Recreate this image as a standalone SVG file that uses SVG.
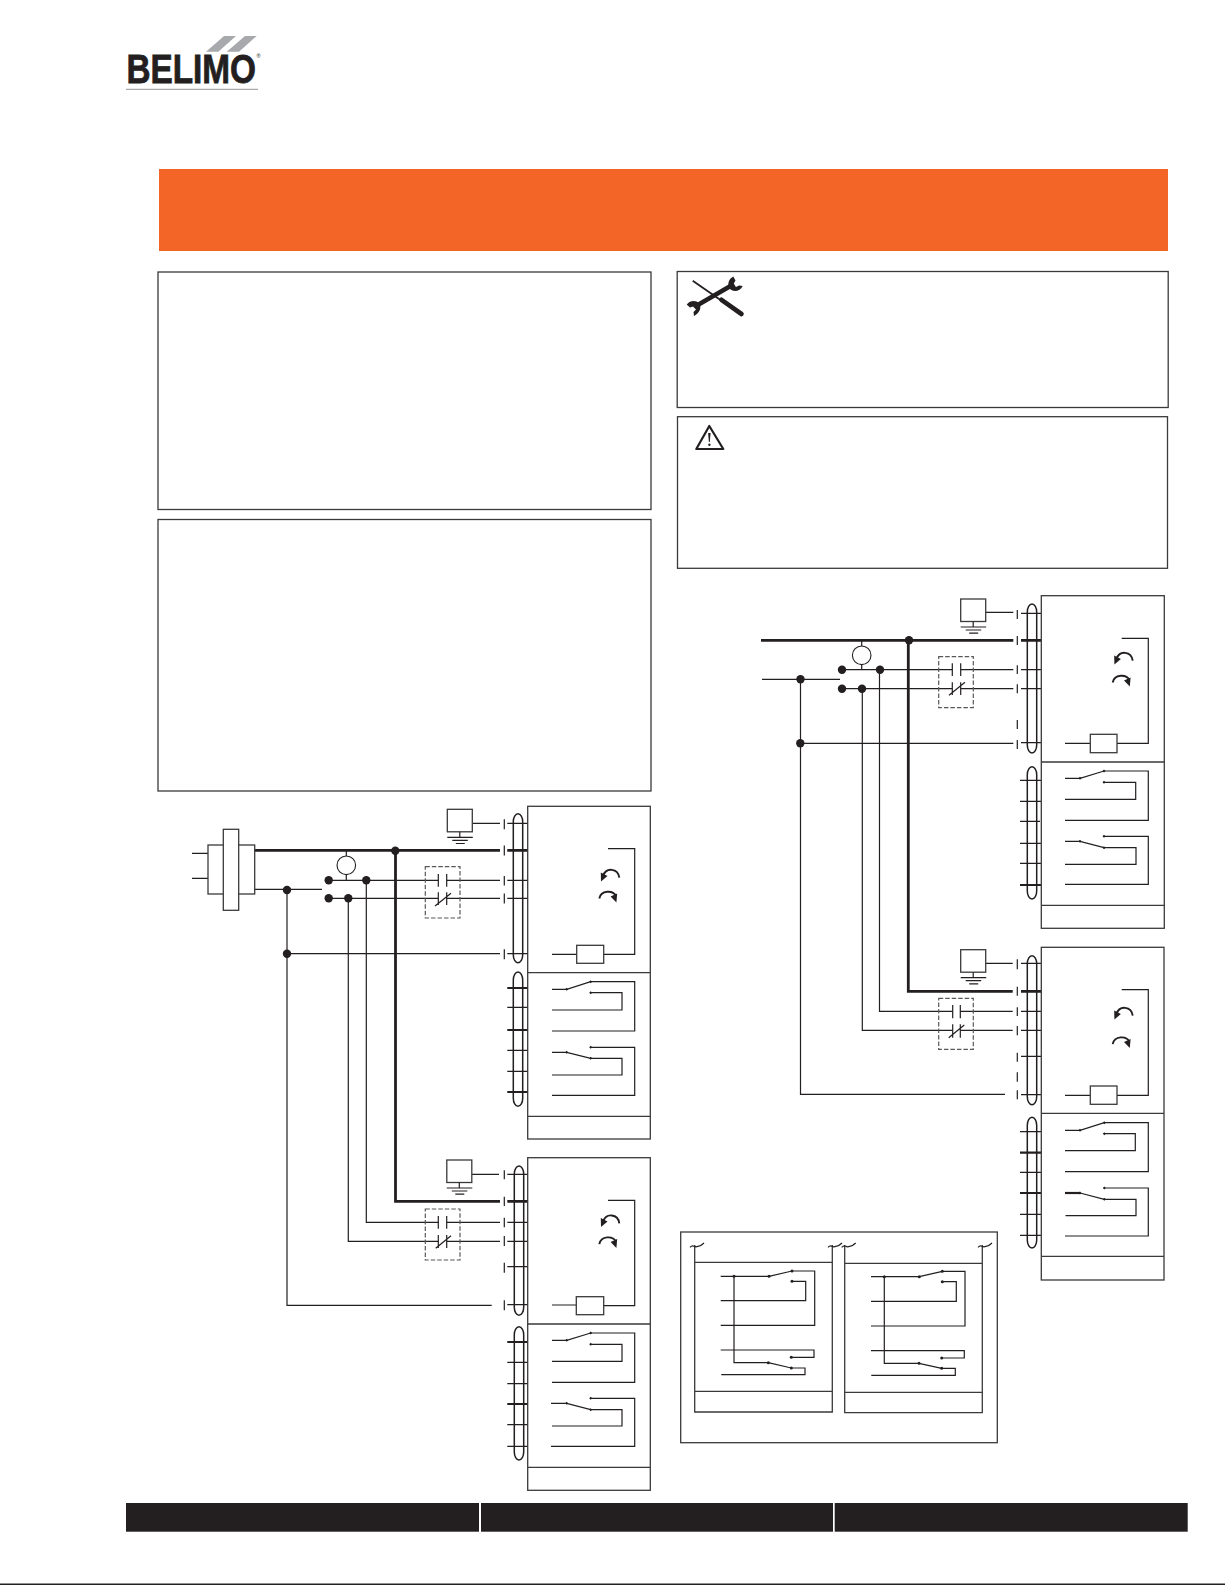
<svg xmlns="http://www.w3.org/2000/svg" width="1225" height="1585" viewBox="0 0 1225 1585">
<style>
.w{fill:none;stroke:#231f20;stroke-width:1.2}
.t{fill:none;stroke:#231f20;stroke-width:2.8}
.m{fill:none;stroke:#231f20;stroke-width:2.2}
.b{fill:none;stroke:#3a3a3c;stroke-width:1.3}
.bx{fill:#fff;stroke:#3a3a3c;stroke-width:1.3}
.o{fill:none;stroke:#231f20;stroke-width:1.5}
.d{fill:none;stroke:#58595b;stroke-width:1.2;stroke-dasharray:4.5 2}
.k{fill:#231f20}
.a{fill:none;stroke:#231f20;stroke-width:1.9}
</style>
<defs>
<g id="rotL"><path class="a" d="M19.3-2.3C18-12 6-13 3-4"/><path class="k" d="M1 1.5 .8-7.5 7.5-4z"/></g>
<g id="rotR"><path class="a" d="M-.7-1.5C1-10 13-10 16-4"/><path class="k" d="M16.4 2.5 17.2-6.5 10.6-3.5z"/></g>
<g id="gnd"><rect class="bx" x="0" y="0" width="25" height="22.5"/><path class="w" d="M12.5 22.5V28M0 28H25.5M5 31H20.5M8.5 34.2H17.5"/></g>
<g id="squig"><path class="w" d="M0 4.3q2-2 4-1t4 0q3-.3 6-3.3"/></g>
</defs>
<rect width="1225" height="1585" fill="#fff"/>

<g id="logo">
<path fill="#a7a9ac" d="M206 51.7 224 36H236L218.3 51.7zM226.7 51.7 245 36H256.7L239 51.7z"/>
<text x="126.5" y="83" font-family="'Liberation Sans',Arial,sans-serif" font-weight="700" font-size="40" fill="#231f20"><tspan textLength="129.5" lengthAdjust="spacingAndGlyphs" stroke="#231f20" stroke-width=".8">BELIMO</tspan><tspan x="256.4" y="58" font-size="5.5" font-weight="400">®</tspan></text>
<rect x="126" y="88.8" width="132" height="1" fill="#939598"/>
</g>
<g id="title-band"><rect x="159" y="169" width="1009" height="82" fill="#f36526"/></g>
<g id="box-left-1"><rect class="b" x="158" y="272" width="493" height="237.5"/></g>
<g id="box-left-2"><rect class="b" x="158" y="519.5" width="493" height="271.5"/></g>
<g id="box-tools"><rect class="b" x="677.2" y="271.5" width="491" height="136"/>
<path class="k" d="M692.2 281.4 693.2 280 721 299.3 720 300.8z"/>
<path fill="none" stroke="#231f20" stroke-width="4.6" stroke-linecap="round" d="M721.5 299.8 741.5 314"/>
<path fill="none" stroke="#231f20" stroke-width="4.4" d="M696 306 734 284"/>
<path class="k" d="M733.3 276.5C728 279 727 286 730 289 733 292 740 292 742.7 286L739 285.5 736 287 733.5 284 735.5 280.5Z"/>
<path class="k" d="M686.7 304.5C690 300 696 300 699 303 702 307 700 313 694 316L693.5 312 696 309.5 693 306.5 690 307.5Z"/>
</g>
<g id="box-warning"><rect class="b" x="677.5" y="416.7" width="490" height="151.6"/>
<path fill="none" stroke="#231f20" stroke-width="2.2" stroke-linejoin="round" d="M709.3 426 696.3 449H723.3z"/>
<path class="k" d="M708.1 433H710.6L709.8 442H708.9z"/><circle class="k" cx="709.4" cy="444.8" r="1.2"/>
</g>

<g id="connectors">
<path class="w" d="M192 853.3H208M192 878.3H208M253.3 889.3H322"/>
<path class="w" d="M287 890V1305.3H491.7M287 953.7H500"/>
<path class="t" d="M254.3 850.3H500M395.5 850.3V1201.3H500"/>
<path class="w" d="M346.3 850.3V856M346.3 874.7V880.3M328.7 880.3H438.3M446.7 880.3H500M328.7 898.3H438.3M446.7 898.3H500"/>
<path class="w" d="M348.3 898.3V1241.3H438.3M446.7 1241.3H500M366.3 880.3V1222.3H438.3M446.7 1222.3H500"/>
<path class="w" d="M472.7 823.3H500M472 1174.3H499"/>
<path class="w" d="M504.3 819.3V829.3M504.3 845.5V855.5M504.3 876V885.5M504.3 893.5V903.5M504.3 949.3V959.3M504.3 1170.3V1179.3M504.3 1196.7V1206M504.3 1217.7V1227.3M504.3 1236V1246M504.3 1262.7V1272.7M504.3 1300.3V1310.3"/>
<path class="w" d="M507.3 823.3H527.7M507.3 880.3H527.7M507.3 898.3H527.7M507.3 953.7H527.7M507.3 1007.3H527.7M507.3 1050.3H527.7M507.3 1071.3H527.7M507.3 1174.3H527.7M507.3 1222.3H527.7M507.3 1241.3H527.7M507.3 1266.7H527.7M507.3 1304.7H527.7M507.3 1362.3H527.7M507.3 1383.7H527.7M507.3 1424.7H527.7M507.3 1446.3H527.7"/>
<path class="t" d="M507.3 850.3H527.7M507.3 1201.3H527.7"/>
<path class="m" d="M507.3 988H527.7M507.3 1030H527.7M507.3 1092H527.7M507.3 1342H527.7M507.3 1404H527.7"/>
<circle class="k" cx="395.3" cy="850.7" r="4.2"/><circle class="k" cx="287" cy="890" r="4.2"/><circle class="k" cx="287" cy="953.7" r="4.2"/>
<circle class="k" cx="328.7" cy="880.3" r="4.2"/><circle class="k" cx="366.3" cy="880.3" r="4.2"/><circle class="k" cx="328.7" cy="898.3" r="4.2"/><circle class="k" cx="348.3" cy="898.3" r="4.2"/>
<path class="w" d="M762 679.3H840M800.5 679.3V1094.3H1005M800.5 743.3H1013.3"/>
<path class="t" d="M761 640.3H1013.3M908.3 640.3V991.3H1012.7"/>
<path class="w" d="M861.7 640.3V646M861.7 664.7V669.7M842 669.7H952.3M960.7 669.7H1013.3M842 688.7H952.3M960.7 688.7H1013.3"/>
<path class="w" d="M862.3 688.7V1030.3H952.7M960.3 1030.3H1012.7M879.5 669.7V1011.3H952.7M960.3 1011.3H1012.7"/>
<path class="w" d="M985.7 612.3H1013.3M985.7 963.3H1012.7"/>
<path class="w" d="M1017.3 610V619M1017.3 636V645M1017.3 665.3V674M1017.3 684.3V693.3M1017.3 720V729M1017.3 740V749M1017.3 959.3V969.3M1017.3 986.7V995.7M1017.3 1007.3V1016M1017.3 1026V1035.3M1017.3 1052.7V1061.7M1017.3 1072.3V1081.7M1017.3 1090.3V1099.3"/>
<path class="w" d="M1021 613.3H1041.3M1021 669.7H1041.3M1021 688.7H1041.3M1021 742.7H1041.3M1020 780.3H1041.3M1020 801.3H1041.3M1020 821.3H1040M1020 843.3H1041.3M1020 863.3H1041.3M1021 963.3H1041.3M1021 1011.3H1041.3M1021 1030.3H1041.3M1021 1056.3H1041.3M1021 1094.7H1041.3M1020 1131.7H1041.3M1020 1172.3H1041.3M1020 1214.3H1041.3M1020 1235.3H1041.3"/>
<path class="t" d="M1021 640.3H1041.3M1021 991.3H1041.3"/>
<path class="m" d="M1020 885H1041.3M1020 1152.7H1041.3M1020 1193H1041.3"/>
<circle class="k" cx="909" cy="640.3" r="4.2"/><circle class="k" cx="800.5" cy="679.3" r="4.2"/><circle class="k" cx="800.3" cy="743.3" r="4.2"/>
<circle class="k" cx="842" cy="669.7" r="4.2"/><circle class="k" cx="880" cy="669.7" r="4.2"/><circle class="k" cx="842" cy="688.7" r="4.2"/><circle class="k" cx="862" cy="688.7" r="4.2"/>
</g>

<g id="terminal-block"><rect class="bx" x="208" y="845" width="46.7" height="49"/><rect class="bx" x="223.3" y="829.3" width="15.4" height="81"/></g>
<g id="switch-left"><circle cx="346.3" cy="865.3" r="9.3" fill="#fff" stroke="#231f20" stroke-width="1.1"/></g>
<g id="switch-right"><circle cx="861.7" cy="655.3" r="9.3" fill="#fff" stroke="#231f20" stroke-width="1.1"/></g>
<g id="ground-l1"><use href="#gnd" x="447.3" y="809.3"/></g>
<g id="ground-l2"><use href="#gnd" x="446.8" y="1160"/></g>
<g id="ground-r1"><use href="#gnd" x="960.7" y="599"/></g>
<g id="ground-r2"><use href="#gnd" x="960.7" y="949.7"/></g>

<g id="contacts-l1"><rect class="d" x="425.3" y="866.7" width="34.7" height="51.3"/><path class="w" d="M438.3 874V886.7M446.7 874V886.7M438.3 892.3V905M446.7 892.3V905M435 906 451 893.3"/></g>
<g id="contacts-l2"><rect class="d" x="425.3" y="1209" width="34.7" height="51"/><path class="w" d="M438.3 1216V1228.7M446.7 1216V1228.7M438.3 1235V1248M446.7 1235V1248M435.7 1248.3 451 1235.7"/></g>
<g id="contacts-r1"><rect class="d" x="938.7" y="656.7" width="34.6" height="51"/><path class="w" d="M952.3 663.3V676M960.7 663.3V676M952.3 682.3V695M960.7 682.3V695M949 695.3 965 682.3"/></g>
<g id="contacts-r2"><rect class="d" x="938.7" y="998.3" width="34.6" height="51"/><path class="w" d="M952.7 1005V1018.3M960.3 1005V1018.3M952.7 1024.3V1037.7M960.3 1024.3V1037.7M948.7 1037.7 964.3 1025"/></g>

<g id="actuator-l1">
<rect class="b" x="527.7" y="806.3" width="122.6" height="332.7"/><path class="b" d="M527.7 972.7H650.3M527.7 1116.3H650.3"/>
<rect class="o" x="513.3" y="813.7" width="9.4" height="149" rx="4.7" ry="8"/><rect class="o" x="513.3" y="972" width="9.4" height="134.3" rx="4.7" ry="8"/>
<path class="w" d="M608 848.7H634.7V954.3H603.7M552 954.3H576.7"/><rect class="bx" x="576.7" y="945.3" width="27" height="18"/>
<use href="#rotL" x="600" y="880"/><use href="#rotR" x="600" y="900"/>
<path class="w" d="M552 989.3H566.7L590.7 981.7H634.7V1031H552M590.7 992.7H622V1010H552M552 1052.3H566.7L590.7 1058.3H622V1075H552M590.7 1047.3H634.7V1095.3H552"/>
<path class="k" d="M566.7 987.8l1.5 1.5-1.5 1.5-1.5-1.5zM590.7 980.2l1.5 1.5-1.5 1.5-1.5-1.5zM590.7 991.2l1.5 1.5-1.5 1.5-1.5-1.5zM566.7 1050.8l1.5 1.5-1.5 1.5-1.5-1.5zM590.7 1056.8l1.5 1.5-1.5 1.5-1.5-1.5zM590.7 1045.8l1.5 1.5-1.5 1.5-1.5-1.5z"/>
</g>
<g id="actuator-l2">
<rect class="b" x="527.7" y="1157.7" width="122.6" height="332.6"/><path class="b" d="M527.7 1324H650.3M527.7 1467.3H650.3"/>
<rect class="o" x="514.3" y="1166" width="9.4" height="149.3" rx="4.7" ry="8"/><rect class="o" x="514.3" y="1326.7" width="9.4" height="133.3" rx="4.7" ry="8"/>
<path class="w" d="M608 1200.3H634.7V1305.7H603.7M552 1305H576.3"/><rect class="bx" x="576.3" y="1296.7" width="27.4" height="18"/>
<use href="#rotL" x="600" y="1225.6"/><use href="#rotR" x="600" y="1245.6"/>
<path class="w" d="M552 1340.3H566.7L590.7 1333H634.7V1382.3H552M590.7 1344.3H622V1361.3H552M551 1403.3H566.7L590.7 1409.7H622V1426H552M590.7 1398.3H634.7V1446.3H551"/>
<path class="k" d="M566.7 1338.8l1.5 1.5-1.5 1.5-1.5-1.5zM590.7 1331.5l1.5 1.5-1.5 1.5-1.5-1.5zM590.7 1342.8l1.5 1.5-1.5 1.5-1.5-1.5zM566.7 1401.8l1.5 1.5-1.5 1.5-1.5-1.5zM590.7 1408.2l1.5 1.5-1.5 1.5-1.5-1.5zM590.7 1396.8l1.5 1.5-1.5 1.5-1.5-1.5z"/>
</g>
<g id="actuator-r1">
<rect class="b" x="1041.3" y="595.7" width="123" height="332.6"/><path class="b" d="M1041.3 762H1164.3M1041.3 905.3H1164.3"/>
<rect class="o" x="1027.3" y="604" width="9.4" height="149" rx="4.7" ry="8"/><rect class="o" x="1027.3" y="766.7" width="9.4" height="132.3" rx="4.7" ry="8"/>
<path class="w" d="M1121.7 638.3H1148.3V743.3H1117M1065 743.3H1090.3"/><rect class="bx" x="1090.3" y="734.3" width="26.7" height="18.4"/>
<use href="#rotL" x="1113.4" y="663"/><use href="#rotR" x="1113.4" y="684"/>
<path class="w" d="M1065 778.3H1080L1104 771H1148.3V820.3H1065M1104 782.3H1135.7V799.3H1065M1065 841.3H1080L1104 847.7H1136V864.3H1065M1104 836.3H1148.3V884.3H1065"/>
<path class="k" d="M1080 776.8l1.5 1.5-1.5 1.5-1.5-1.5zM1104 769.5l1.5 1.5-1.5 1.5-1.5-1.5zM1104 780.8l1.5 1.5-1.5 1.5-1.5-1.5zM1080 839.8l1.5 1.5-1.5 1.5-1.5-1.5zM1104 846.2l1.5 1.5-1.5 1.5-1.5-1.5zM1104 834.8l1.5 1.5-1.5 1.5-1.5-1.5z"/>
</g>
<g id="actuator-r2">
<rect class="b" x="1041.3" y="947.3" width="122.7" height="332.7"/><path class="b" d="M1041.3 1113.3H1164M1041.3 1256.3H1164"/>
<rect class="o" x="1027.3" y="955.7" width="9.4" height="149" rx="4.7" ry="8"/><rect class="o" x="1027.3" y="1117.3" width="9.4" height="130.7" rx="4.7" ry="8"/>
<path class="w" d="M1121.7 989.7H1148.3V1095.3H1117M1065 1095.3H1090.3"/><rect class="bx" x="1090.3" y="1086" width="26.7" height="18.3"/>
<use href="#rotL" x="1113.4" y="1018"/><use href="#rotR" x="1113.4" y="1045.6"/>
<path class="w" d="M1065 1130.3H1080L1104.3 1122.7H1148.3V1171.7H1065M1104.3 1133.7H1135.3V1150.7H1065M1080 1193 1104.3 1199.3H1136V1215.7H1065.5M1104.3 1188H1148.3V1236H1065"/>
<path class="m" d="M1065 1193H1080"/>
<path class="k" d="M1080 1128.8l1.5 1.5-1.5 1.5-1.5-1.5zM1104.3 1121.2l1.5 1.5-1.5 1.5-1.5-1.5zM1104.3 1132.2l1.5 1.5-1.5 1.5-1.5-1.5zM1080 1191.5l1.5 1.5-1.5 1.5-1.5-1.5zM1104.3 1197.8l1.5 1.5-1.5 1.5-1.5-1.5zM1104.3 1186.5l1.5 1.5-1.5 1.5-1.5-1.5z"/>
</g>

<g id="detail-frame"><rect class="b" x="680.7" y="1232" width="316.6" height="210.7"/></g>
<g id="detail-left">
<path class="b" d="M694.7 1245V1412H832.3V1245M694.7 1262.3H832.3M694.7 1391.3H832.3"/>
<use href="#squig" x="690" y="1243"/><use href="#squig" x="828" y="1243"/>
<path class="w" d="M720.7 1276.3H769L792 1271H814.7V1325.3H720.7M792 1281.3H805.7V1300.7H720.7M734 1276.3V1362.7H768.3L791.3 1368H805V1374.7H721.3M720.7 1350H814V1357.3H791.3"/>
<g class="k"><circle cx="734" cy="1276.3" r="1.5"/><circle cx="769" cy="1276.3" r="1.5"/><circle cx="792" cy="1271" r="1.5"/><circle cx="792" cy="1281.3" r="1.5"/><circle cx="768.3" cy="1362.7" r="1.5"/><circle cx="791.3" cy="1368" r="1.5"/><circle cx="791.3" cy="1357.3" r="1.5"/></g>
</g>
<g id="detail-right">
<path class="b" d="M844.7 1245V1412.7H982.3V1245M844.7 1263.3H982.3M844.7 1392.3H982.3"/>
<use href="#squig" x="841.7" y="1243"/><use href="#squig" x="978" y="1243"/>
<path class="w" d="M871 1276.7H919.3L942.3 1271.3H965V1326H871M942.3 1281.7H956.3V1301.3H871M884.3 1276.7V1363.3H919L941.7 1368.3H955.3V1375.3H871.3M871 1350.7H964.3V1358H941.7"/>
<g class="k"><circle cx="884.3" cy="1276.7" r="1.5"/><circle cx="919.3" cy="1276.7" r="1.5"/><circle cx="942.3" cy="1271.3" r="1.5"/><circle cx="942.3" cy="1281.7" r="1.5"/><circle cx="919" cy="1363.3" r="1.5"/><circle cx="941.7" cy="1368.3" r="1.5"/><circle cx="941.7" cy="1358" r="1.5"/></g>
</g>

<g id="footer">
<rect class="k" x="126" y="1503" width="353" height="28.7"/><rect class="k" x="481" y="1503" width="352" height="28.7"/><rect class="k" x="834.7" y="1503" width="353" height="28.7"/>
<rect class="k" x="0" y="1583.5" width="1225" height="1.5"/>
</g>
</svg>
